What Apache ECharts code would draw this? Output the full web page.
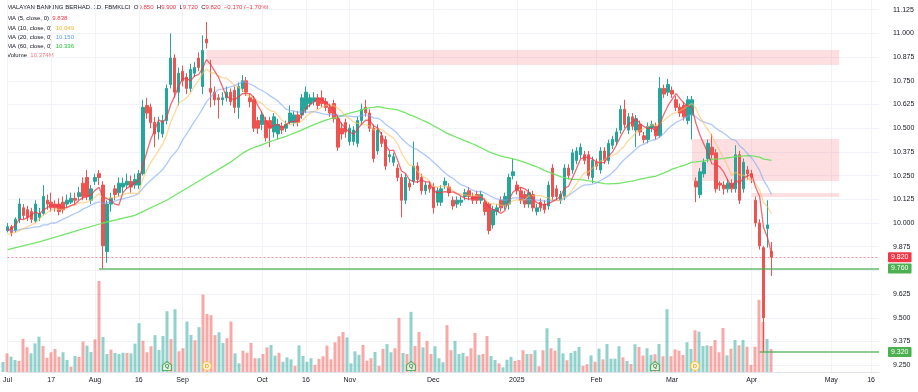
<!DOCTYPE html>
<html><head><meta charset="utf-8">
<script src="https://cdn.jsdelivr.net/npm/echarts@6/dist/echarts.min.js"></script>
<style>html,body{margin:0;padding:0;background:#fff}#c{width:918px;height:392px}</style>
</head><body><div id="c"></div>
<script>
// ---------- DATA ----------
const tradingDays = {
 '2024-07': [1,2,3,4,5,9,10,11,12,15,16,17,18,19,22,23,24,25,26,29,30,31],
 '2024-08': [1,2,5,6,7,8,9,12,13,14,15,16,19,20,21,22,23,26,27,28,29,30],
 '2024-09': [2,3,4,5,6,9,10,11,12,13,17,18,19,20,23,24,25,26,27,30],
 '2024-10': [1,2,3,4,7,8,9,10,11,14,15,16,17,18,21,22,23,24,25,28,29,30],
 '2024-11': [1,4,5,6,7,8,11,12,13,14,15,18,19,20,21,22,25,26,27,28,29],
 '2024-12': [2,3,4,5,6,9,10,11,12,13,16,17,18,19,20,23,24,26,27,30,31],
 '2025-01': [2,3,6,7,8,9,10,13,14,15,16,17,20,21,22,23,24,27,28,31],
 '2025-02': [3,4,5,6,7,10,12,13,14,17,18,19,20,21,24,25,26,27,28],
 '2025-03': [3,4,5,6,7,10,11,12,13,14,17,18,19,20,21,24,25,26,27,28],
 '2025-04': [2,3,4,7,8,9,10,11,14,15,16,17,21,22,23,24,25,28,29,30],
 '2025-05': [1,2,5,6,7,8,9,13,14,15,16,19,20]
};
const tickLabels = {
 '2024-07-01':'Jul','2024-07-17':'17','2024-08-01':'Aug','2024-08-16':'16','2024-09-02':'Sep',
 '2024-10-01':'Oct','2024-10-16':'16','2024-11-01':'Nov','2024-12-02':'Dec','2025-01-02':'2025',
 '2025-02-03':'Feb','2025-03-03':'Mar','2025-04-02':'Apr','2025-05-01':'May','2025-05-16':'16'
};
const priceTicks = [9.25,9.375,9.5,9.625,9.75,9.875,10,10.125,10.25,10.375,10.5,10.625,10.75,10.875,11,11.125];

const opens = [9.96,9.98,9.96,10.02,10.08,10.07,10.06,10.01,10.03,10.05,
10.12,10.11,10.10,10.10,10.11,10.10,10.11,10.13,10.14,10.21,
10.24,10.12,10.22,10.26,10.20,9.85,10.10,10.18,10.16,10.19,
10.20,10.22,10.20,10.20,10.26,10.62,10.61,10.53,10.48,10.47,
10.54,10.73,10.87,10.69,10.80,10.77,10.71,10.79,10.87,10.72,
10.97,10.71,10.69,10.66,10.65,10.66,10.69,10.70,10.61,10.71,
10.75,10.66,10.65,10.54,10.52,10.54,10.54,10.48,10.47,10.51,
10.50,10.53,10.53,10.57,10.57,10.60,10.63,10.64,10.66,10.66,
10.64,10.61,10.63,10.55,10.50,10.53,10.43,10.43,10.42,10.54,
10.61,10.58,10.50,10.38,10.46,10.44,10.35,10.32,10.29,10.24,
10.12,10.21,10.22,10.30,10.24,10.17,10.20,10.19,10.11,10.11,
10.20,10.19,10.12,10.10,10.11,10.14,10.17,10.14,10.15,10.12,
10.11,10.10,9.99,10.06,10.12,10.09,10.10,10.25,10.20,10.17,
10.15,10.10,10.15,10.06,10.11,10.10,10.09,10.29,10.18,10.12,
10.14,10.29,10.28,10.33,10.36,10.36,10.36,10.24,10.32,10.28,
10.38,10.33,10.41,10.43,10.49,10.60,10.49,10.56,10.49,10.52,
10.46,10.44,10.50,10.51,10.46,10.71,10.69,10.70,10.65,10.61,
10.62,10.54,10.57,10.22,10.15,10.26,10.34,10.40,10.37,10.21,
10.20,10.18,10.21,10.18,10.36,10.18,10.28,10.26,10.12,10.00,
9.87,9.97,9.85];
const closes = [9.98,9.95,10.02,10.10,10.04,10.03,10.02,10.10,10.05,10.14,
10.10,10.08,10.08,10.06,10.07,10.12,10.13,10.12,10.16,10.14,
10.14,10.18,10.24,10.24,9.88,10.10,10.13,10.15,10.21,10.21,
10.22,10.19,10.23,10.26,10.61,10.58,10.53,10.47,10.53,10.54,
10.71,10.87,10.69,10.79,10.75,10.71,10.81,10.82,10.82,10.91,
10.95,10.69,10.65,10.65,10.66,10.69,10.64,10.61,10.72,10.75,
10.69,10.64,10.50,10.50,10.57,10.45,10.50,10.56,10.52,10.49,
10.52,10.58,10.57,10.53,10.66,10.69,10.66,10.66,10.62,10.63,
10.61,10.58,10.55,10.40,10.47,10.48,10.50,10.49,10.54,10.60,
10.58,10.50,10.34,10.49,10.42,10.30,10.36,10.35,10.24,10.12,
10.24,10.19,10.30,10.23,10.17,10.20,10.18,10.08,10.17,10.18,
10.22,10.16,10.09,10.12,10.12,10.16,10.14,10.12,10.12,10.15,
10.06,9.96,10.07,10.08,10.08,10.14,10.24,10.27,10.17,10.12,
10.10,10.16,10.08,10.08,10.08,10.07,10.20,10.14,10.14,10.15,
10.29,10.25,10.37,10.38,10.40,10.33,10.25,10.33,10.30,10.38,
10.33,10.42,10.44,10.48,10.60,10.52,10.56,10.51,10.55,10.48,
10.44,10.51,10.52,10.46,10.71,10.68,10.73,10.68,10.61,10.58,
10.56,10.65,10.65,10.19,10.27,10.32,10.42,10.36,10.18,10.20,
10.18,10.21,10.18,10.36,10.12,10.32,10.26,10.24,10.00,9.88,
9.50,9.99,9.82];
const highs = [10.00,9.99,10.03,10.13,10.10,10.09,10.08,10.12,10.08,10.20,
10.15,10.16,10.12,10.13,10.14,10.15,10.16,10.16,10.19,10.24,
10.28,10.20,10.26,10.28,10.22,10.12,10.16,10.20,10.24,10.24,
10.26,10.25,10.26,10.28,10.65,10.66,10.63,10.56,10.56,10.57,
10.73,11.00,10.89,10.82,10.83,10.79,10.84,10.85,10.90,10.99,
11.06,10.86,10.72,10.68,10.69,10.72,10.71,10.72,10.74,10.78,
10.77,10.68,10.67,10.56,10.59,10.56,10.56,10.58,10.55,10.53,
10.54,10.62,10.59,10.59,10.68,10.72,10.68,10.69,10.68,10.70,
10.66,10.63,10.65,10.57,10.53,10.55,10.52,10.51,10.56,10.63,
10.65,10.60,10.52,10.52,10.48,10.46,10.38,10.37,10.31,10.26,
10.26,10.23,10.43,10.32,10.26,10.22,10.22,10.21,10.19,10.20,
10.24,10.21,10.14,10.14,10.14,10.18,10.19,10.16,10.17,10.17,
10.13,10.11,10.09,10.10,10.14,10.16,10.26,10.34,10.22,10.19,
10.17,10.18,10.17,10.10,10.13,10.12,10.22,10.31,10.20,10.17,
10.31,10.31,10.39,10.40,10.42,10.38,10.38,10.35,10.34,10.40,
10.40,10.44,10.46,10.50,10.62,10.65,10.58,10.58,10.57,10.54,
10.48,10.53,10.54,10.53,10.77,10.73,10.76,10.72,10.67,10.63,
10.64,10.67,10.67,10.24,10.29,10.34,10.44,10.47,10.39,10.22,
10.22,10.23,10.23,10.41,10.38,10.34,10.30,10.28,10.14,10.02,
9.88,10.12,9.90];
const lows = [9.95,9.93,9.95,10.00,10.02,10.01,10.00,10.00,10.01,10.04,
10.07,10.06,10.06,10.04,10.05,10.08,10.10,10.10,10.12,10.12,
10.12,10.10,10.20,10.20,9.76,9.79,10.06,10.12,10.14,10.16,
10.18,10.16,10.18,10.18,10.25,10.55,10.50,10.40,10.44,10.45,
10.52,10.71,10.66,10.62,10.72,10.68,10.69,10.77,10.80,10.68,
10.92,10.61,10.62,10.55,10.62,10.64,10.62,10.58,10.55,10.69,
10.67,10.61,10.48,10.47,10.49,10.43,10.40,10.45,10.44,10.47,
10.48,10.52,10.51,10.51,10.55,10.58,10.61,10.62,10.60,10.61,
10.59,10.56,10.53,10.38,10.44,10.45,10.41,10.41,10.40,10.52,
10.56,10.48,10.32,10.36,10.40,10.28,10.32,10.30,10.22,10.03,
10.10,10.17,10.20,10.21,10.15,10.15,10.16,10.05,10.09,10.09,
10.18,10.14,10.07,10.08,10.09,10.12,10.12,10.10,10.10,10.10,
10.04,9.94,9.97,10.04,10.06,10.07,10.07,10.23,10.15,10.10,
10.08,10.08,10.06,10.04,10.06,10.05,10.07,10.12,10.12,10.10,
10.12,10.23,10.26,10.31,10.34,10.31,10.23,10.21,10.28,10.26,
10.31,10.31,10.39,10.41,10.47,10.50,10.47,10.49,10.40,10.46,
10.42,10.42,10.48,10.44,10.45,10.66,10.67,10.66,10.59,10.56,
10.54,10.52,10.44,10.11,10.13,10.24,10.32,10.34,10.16,10.17,
10.15,10.16,10.16,10.16,10.10,10.16,10.23,10.21,9.98,9.86,
9.32,9.87,9.72];
// volume in millions
const volumes = [4.5,8.4,6.9,5.4,5.0,14.9,11.1,8.4,12.9,15.9,
11.7,6.4,8.9,10.4,6.9,8.9,5.4,2.4,7.2,6.8,
13.7,11.9,9.0,14.7,41.0,15.8,8.1,10.1,8.6,8.1,
8.7,8.6,8.4,12.8,22.0,14.1,8.9,11.6,16.6,9.9,
16.2,27.4,14.9,28.3,9.3,10.7,22.7,16.7,14.3,20.2,
34.9,26.2,25.6,16.6,17.9,13.1,15.2,22.7,8.4,3.9,
9.6,8.7,13.1,6.2,6.2,8.1,11.1,12.2,7.4,8.6,
4.6,6.6,5.7,2.8,12.0,7.2,4.6,6.2,3.2,5.9,
7.1,11.9,5.7,13.4,16.1,18.0,15.6,3.9,9.3,7.7,
12.2,5.1,6.2,9.0,2.8,10.4,12.6,8.9,10.7,24.4,
8.6,8.1,27.1,11.7,18.0,11.1,14.0,8.1,11.6,6.2,
4.4,21.1,9.8,14.0,8.1,8.6,7.1,10.7,17.6,7.7,
8.1,16.2,7.2,5.4,3.9,2.1,5.5,6.8,5.0,5.4,
9.8,8.1,8.1,9.8,2.6,9.8,19.7,10.7,9.6,15.3,
8.4,5.3,8.6,9.5,11.3,2.8,3.5,7.5,4.6,10.5,
5.7,12.6,6.0,6.0,11.6,6.6,5.0,3.6,12.5,11.3,
7.4,10.7,7.7,8.0,12.6,7.1,28.3,7.1,10.2,9.6,
7.7,13.4,10.4,18.8,18.2,11.7,12.0,11.7,14.4,8.9,
19.8,7.5,10.5,14.4,12.0,14.4,11.4,3.2,11.4,32.5,
22.6,14.9,10.374];
const ma5Lead = [9.96,9.97,9.99,10.02];
const ma10Lead = [9.94,9.945,9.95,9.96,9.97,9.98,9.99,10.00,10.02];
const ma20Lead = [9.96,9.96,9.96,9.965,9.97,9.97,9.975,9.98,9.98,9.99,9.99,10.0,10.0,10.01,10.02,10.03,10.04,10.05,10.06];
const ma60Lead = {0:9.86,8:9.90,16:9.95,24:10.00,32:10.04,40:10.12,48:10.22,56:10.32};
// chart annotations (category index / price)
const zones = [[50,209,10.833,10.912],[172,209,10.2215,10.443],[187,209,10.137,10.158]];
const lastPrice = 9.82;
const supportLevels = [[23,9.76],[189,9.32]];
const events = [[41,'Q'],[51,'D'],[102,'Q'],[163,'Q'],[173,'D']];
const legendValues = {O:'9.850',H:'9.900',L:'9.720',C:'9.820',chg:'−0.170 (−1.70%)',ma5:'9.838',ma10:'10.049',ma20:'10.150',ma60:'10.336',vol:'10.374M'};

// ---------- BUILD ----------
const dates = [];
Object.keys(tradingDays).forEach(m => tradingDays[m].forEach(d => dates.push(m + '-' + String(d).padStart(2,'0'))));
const candle = opens.map((o,i) => [o, closes[i], lows[i], highs[i]]);
function sma(n, lead){
  return closes.map((c,i) => {
    if (i < n-1) { const v = lead[i]; return v == null ? null : v; }
    let s = 0; for (let k=i-n+1;k<=i;k++) s += closes[k];
    return +(s/n).toFixed(4);
  });
}
const UP='#26a69a', DN='#ef5350';
const volData = volumes.map((v,i) => ({value:v, itemStyle:{color: closes[i] >= opens[i] ? 'rgba(38,166,154,0.5)' : 'rgba(239,83,80,0.5)'}}));
const FONT = '"Liberation Sans", Arial, sans-serif';
const isTick = (i, v) => Object.prototype.hasOwnProperty.call(tickLabels, v);

const chart = echarts.init(document.getElementById('c'), null, {renderer:'canvas'});
const maLine = (name, data, color, z) => ({name, type:'line', data, xAxisIndex:0, yAxisIndex:0, showSymbol:false, symbol:'none', connectNulls:true, smooth:false, lineStyle:{color, width:1.3}, z, silent:true, animation:false});
const tag = (txt, bg) => ({show:true, position:'end', distance:9, formatter:txt, backgroundColor:bg, color:'#fff', fontSize:7, padding:[2,3,1,3], borderRadius:1, fontFamily:FONT});
const legendRow = (top, label, value, color) => ({type:'text', left:7, top, silent:true,
  style:{text:'{t|'+label+'}  {v|'+value+'}', font:'6px '+FONT, fill:'#131722',
    rich:{t:{fontSize:6, fill:'#131722', fontFamily:FONT}, v:{fontSize:6, fill:color, fontFamily:FONT}}}});

chart.setOption({
  animation:false,
  backgroundColor:'#ffffff',
  textStyle:{fontFamily:FONT},
  grid:[
    {left:3, top:0, width:876, height:372, containLabel:false},
    {left:3, top:281, width:876, height:91, containLabel:false}
  ],
  xAxis:[
    {type:'category', gridIndex:0, data:dates, boundaryGap:false,
     axisLine:{show:true, lineStyle:{color:'#e0e3eb'}}, axisTick:{show:false},
     axisLabel:{interval:isTick, formatter:v => tickLabels[v] || '', fontSize:7, color:'#131722', margin:5, fontFamily:FONT},
     splitLine:{show:true, interval:isTick, lineStyle:{color:'#f0f3fa', width:1}}},
    {type:'category', gridIndex:1, data:dates, boundaryGap:false, show:false}
  ],
  yAxis:[
    {type:'value', gridIndex:0, position:'right', min:9.2141, max:11.1762, scale:true,
     axisLine:{show:false}, axisTick:{show:false, customValues:priceTicks},
     axisLabel:{customValues:priceTicks, formatter:v => v.toFixed(3), fontSize:7, color:'#131722', margin:14, fontFamily:FONT},
     splitLine:{show:true, lineStyle:{color:'#f0f3fa', width:1}}},
    {type:'value', gridIndex:1, min:0, max:'dataMax', show:false}
  ],
  series:[
    {name:'zones', type:'line', data:[], xAxisIndex:0, yAxisIndex:0, z:0, silent:true,
     markArea:{silent:true, itemStyle:{color:'rgba(242,54,69,0.16)'},
       data: zones.map(z => [{coord:[z[0], z[3]]},{coord:[z[1], z[2]]}])}},
    {name:'Volume', type:'bar', xAxisIndex:1, yAxisIndex:1, data:volData, barWidth:3, z:1, silent:true},
    {name:'events', type:'scatter', xAxisIndex:1, yAxisIndex:1, z:5, silent:true,
     data: events.map(e => ({value:[e[0], 2.7],
        symbol: e[1]==='Q' ? 'path://M0,4 L5,0 L10,4 L10,10 L0,10 Z' : 'circle',
        symbolSize: 9,
        itemStyle: e[1]==='Q' ? {color:'#e8f5e9', borderColor:'#43a047', borderWidth:1.2} : {color:'#fff8e1', borderColor:'#f9c623', borderWidth:1.2},
        label:{show:true, formatter:e[1], position:'inside', fontSize:6, fontWeight:'bold', color: e[1]==='Q' ? '#2e7d32' : '#e0a800'}}))},
    {name:'price', type:'candlestick', xAxisIndex:0, yAxisIndex:0, data:candle, barWidth:3, clip:false, z:3, silent:true,
     itemStyle:{color:UP, color0:DN, borderColor:UP, borderColor0:DN, borderWidth:1}},
    maLine('MA60', sma(60, ma60Lead), 'rgba(102,226,90,0.9)', 4),
    maLine('MA20', sma(20, ma20Lead), 'rgba(120,165,245,0.6)', 4),
    maLine('MA10', sma(10, ma10Lead), 'rgba(255,190,90,0.6)', 4),
    maLine('MA5', sma(5, ma5Lead), 'rgba(242,54,69,0.75)', 5),
    {name:'levels', type:'line', data:[], xAxisIndex:0, yAxisIndex:0, z:6, silent:true,
     markLine:{silent:true, symbol:'none', animation:false,
       data:[
         {yAxis:lastPrice, lineStyle:{color:'rgba(242,54,69,0.55)', type:[2,2], width:1}, label:tag(lastPrice.toFixed(3), '#f23645')},
         ...supportLevels.map(s => [
           {coord:[s[0], s[1]], lineStyle:{color:'rgba(76,175,80,0.85)', type:'solid', width:1.5}, label:tag(s[1].toFixed(3), '#4caf50')},
           {coord:[dates.length-1, s[1]]}
         ])
       ]}}
  ],
  graphic:[
    {type:'text', left:7, top:4, silent:true, style:{
      text:'{t|MALAYAN BANKING BERHAD, 1D, FBMKLCI}  {k|O}{v|'+legendValues.O+'}  {k|H}{v|'+legendValues.H+'}  {k|L}{v|'+legendValues.L+'}  {k|C}{v|'+legendValues.C+'}  {v|'+legendValues.chg+'}',
      font:'6px '+FONT, fill:'#131722',
      rich:{t:{fontSize:6, fill:'#131722', fontFamily:FONT}, k:{fontSize:6, fill:'#131722', fontFamily:FONT}, v:{fontSize:6, fill:'#f23645', fontFamily:FONT}}}},
    legendRow(15, 'MA (5, close, 0)', legendValues.ma5, '#f23645'),
    legendRow(25, 'MA (10, close, 0)', legendValues.ma10, '#f7b731'),
    legendRow(34, 'MA (20, close, 0)', legendValues.ma20, '#5b9cf6'),
    legendRow(43, 'MA (60, close, 0)', legendValues.ma60, '#22c538'),
    legendRow(52, 'Volume', legendValues.vol, '#f77c80')
  ]
});
</script>
</body></html>
